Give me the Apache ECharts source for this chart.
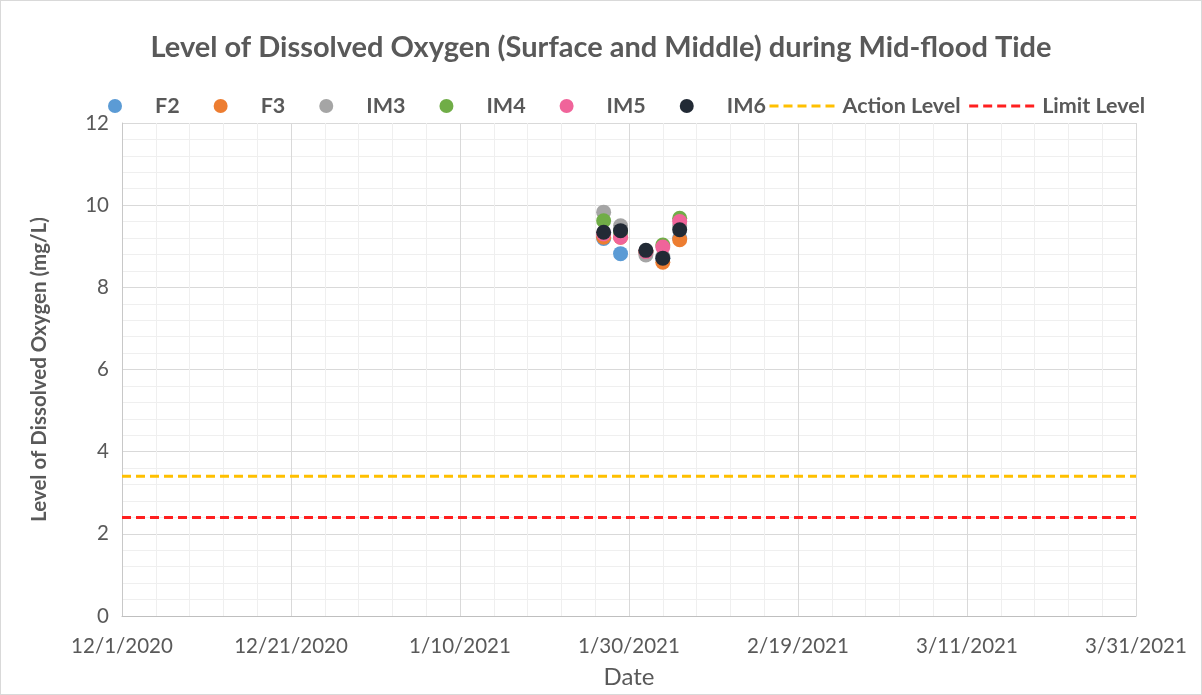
<!DOCTYPE html>
<html>
<head>
<meta charset="utf-8">
<script src="https://cdn.jsdelivr.net/npm/echarts@6/dist/echarts.min.js"></script>
<style>
  html, body { margin: 0; padding: 0; background: #fff; }
  #chart { width: 1200px; height: 693px; border: 1px solid #d9d9d9; }
</style>
</head>
<body>
<div id="chart"></div>
<script>
// sampling dates and readings (mg/L)
let dates = ["2021-01-27", "2021-01-29", "2021-02-01", "2021-02-03", "2021-02-05"];
let f2 = [9.19, 8.82, 8.85, 8.70, 9.20];
let f3 = [9.22, 9.22, 8.86, 8.61, 9.16];
let im3 = [9.83, 9.50, 8.79, 8.75, 9.50];
let im4 = [9.62, 9.35, 8.88, 9.03, 9.68];
let im5 = [9.30, 9.22, 8.87, 8.98, 9.60];
let im6 = [9.34, 9.38, 8.90, 8.71, 9.40];
let actionLevel = 3.4;
let limitLevel = 2.4;
let axisStart = "2020-12-01";
let axisEnd = "2021-03-31";

const DAY = 86400000;
const t0 = Date.parse(axisStart);
function dayOf(s) { return Math.round((Date.parse(s) - t0) / DAY); }
function fmtDay(v) {
    let d = new Date(t0 + v * DAY);
    return (d.getUTCMonth() + 1) + "/" + d.getUTCDate() + "/" + d.getUTCFullYear();
}
const xMax = dayOf(axisEnd);

function pts(vals) {
    return dates.map((d, i) => [dayOf(d), vals[i]]);
}

function dot(name, vals, color) {
    return {
        name: name, type: "scatter", data: pts(vals),
        symbol: "circle", symbolSize: 15,
        itemStyle: {color: color, opacity: 1}
    };
}
function level(name, v, color) {
    return {
        name: name, type: "line", data: [[0, v], [xMax, v]],
        symbol: "none", silent: true,
        lineStyle: {color: color, width: 3, type: [9, 5]},
        itemStyle: {color: color}
    };
}

let chart = echarts.init(document.getElementById("chart"));
let font = "Lato, 'Liberation Sans', sans-serif";
let legendText = {fontFamily: font, fontSize: 21.5, fontWeight: "bold", color: "#595959"};
chart.setOption({
    animation: false,
    textStyle: {fontFamily: font},
    title: {
        text: "Level of Dissolved Oxygen (Surface and Middle) during Mid-flood Tide",
        left: "center", top: 27,
        textStyle: {fontFamily: font, fontSize: 29, fontWeight: "bold", color: "#595959"}
    },
    legend: [{
        left: 102, top: 89,
        itemWidth: 14, itemHeight: 14, itemGap: 34,
        textStyle: Object.assign({padding: [0, 0, 0, 28]}, legendText),
        data: ["F2", "F3", "IM3", "IM4", "IM5", "IM6"]
    }, {
        left: 762, top: 89,
        itemWidth: 68, itemHeight: 14, itemGap: 7,
        itemStyle: {opacity: 0},
        lineStyle: {width: 3},
        textStyle: legendText,
        data: ["Action Level", "Limit Level"]
    }],
    grid: {left: 121, right: 65, top: 122, bottom: 77},
    xAxis: {
        type: "value", min: 0, max: xMax, interval: 20,
        name: "Date", nameLocation: "middle", nameGap: 49,
        nameTextStyle: {fontFamily: font, fontSize: 24, color: "#595959"},
        axisLine: {show: true, lineStyle: {color: "#bfbfbf", width: 1}},
        axisTick: {show: false},
        axisLabel: {formatter: fmtDay, margin: 20, fontSize: 20.5, color: "#595959", showMinLabel: true, showMaxLabel: true},
        splitLine: {show: true, lineStyle: {color: "#d9d9d9", width: 1}},
        minorTick: {show: false, splitNumber: 5},
        minorSplitLine: {show: true, lineStyle: {color: "#efefef", width: 1}}
    },
    yAxis: {
        type: "value", min: 0, max: 12, interval: 2,
        name: "Level of Dissolved Oxygen (mg/L)", nameLocation: "middle", nameGap: 72,
        nameTextStyle: {fontFamily: font, fontSize: 20.5, fontWeight: "bold", color: "#595959"},
        axisLine: {show: true, lineStyle: {color: "#c8c8c8", width: 1}},
        axisTick: {show: false},
        axisLabel: {margin: 13, fontSize: 20.5, color: "#595959"},
        splitLine: {show: true, lineStyle: {color: "#d9d9d9", width: 1}},
        minorTick: {show: false, splitNumber: 5},
        minorSplitLine: {show: true, lineStyle: {color: "#efefef", width: 1}}
    },
    series: [
        level("Action Level", actionLevel, "#ffc000"),
        level("Limit Level", limitLevel, "#ff1f1f"),
        dot("F2", f2, "#5b9bd5"),
        dot("F3", f3, "#ed7d31"),
        dot("IM3", im3, "#a5a5a5"),
        dot("IM4", im4, "#70ad47"),
        dot("IM5", im5, "#f0649a"),
        dot("IM6", im6, "#222a35")
    ]
});
</script>
</body>
</html>
